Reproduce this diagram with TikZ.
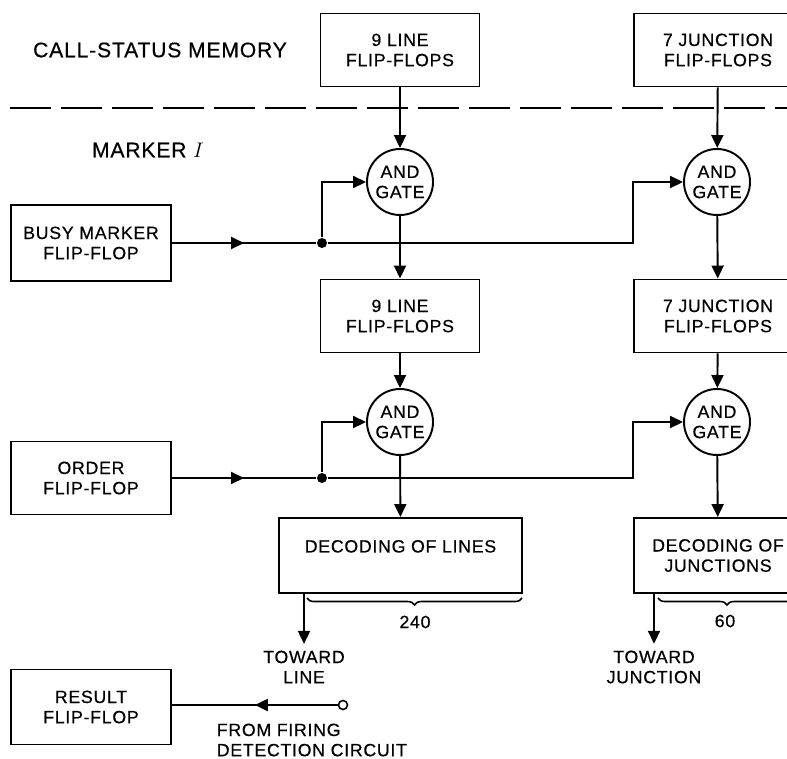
\documentclass[tikz,border=0pt]{standalone}
\usepackage{fontspec}
\setmainfont{Liberation Sans}[LetterSpace=4, FakeBold=0.5]
\usetikzlibrary{arrows.meta, positioning, decorations.markings, decorations.pathreplacing}

\begin{document}
\begin{tikzpicture}[line width=1.1pt,
    >={Triangle[length=0.26cm,width=0.24cm]},
    every node/.style={font=\fontsize{10.1}{11.5}\selectfont, align=center},
    blk/.style={draw, rectangle, minimum height=1.46cm, inner sep=2pt},
    andgate/.style={draw, circle, minimum size=1.32cm, inner sep=0pt},
    jdot/.style={circle, fill, minimum size=0.2cm, inner sep=0pt},
    opendot/.style={circle, draw, fill=white, minimum size=0.18cm, inner sep=0pt, line width=0.9pt},
    midarrow/.style={postaction={decorate},
      decoration={markings, mark=at position 0.5 with {\arrow{>}}}},
    bracelbl/.style={decorate, decoration={brace, mirror, amplitude=0.14cm}, line width=0.9pt},
    heading/.style={font=\fontsize{12}{14}\selectfont}]

\useasboundingbox (0,0) rectangle (15.74,-15.16);
\clip (0,0) rectangle (15.74,-15.16);

\node[heading] (csm) at (3.2,-1.0) {CALL-STATUS MEMORY};
\node[heading] (mk) at (2.96,-3.0) {MARKER $I$};

% === memory / marker boundary ===
\draw[dash pattern=on 0.82cm off 0.2cm] (0.2,-2.16) -- (15.74,-2.16);

% === call-status memory ===
\node[blk, minimum width=3.18cm] (lff1) at (8.0,-1.0) {9 LINE\\FLIP-FLOPS};
\node[blk, minimum width=3.36cm] (jff1) at (14.36,-1.0) {7 JUNCTION\\FLIP-FLOPS};

% === first gates ===
\node[andgate] (g1) at (8.0,-3.64) {AND\\GATE};
\node[andgate] (g2) at (14.34,-3.64) {AND\\GATE};
\node[blk, minimum width=3.2cm, minimum height=1.52cm] (busy) at (1.82,-4.86) {BUSY MARKER\\FLIP-FLOP};
\node[jdot] (d1) at (6.44,-4.86) {};

% === marker flip-flops ===
\node[blk, minimum width=3.18cm] (lff2) at (8.0,-6.32) {9 LINE\\FLIP-FLOPS};
\node[blk, minimum width=3.36cm] (jff2) at (14.36,-6.32) {7 JUNCTION\\FLIP-FLOPS};

% === second gates ===
\node[andgate] (g3) at (8.0,-8.44) {AND\\GATE};
\node[andgate] (g4) at (14.34,-8.44) {AND\\GATE};
\node[blk, minimum width=3.2cm] (order) at (1.82,-9.56) {ORDER\\FLIP-FLOP};
\node[jdot] (d2) at (6.44,-9.56) {};

% === decoding ===
\node[blk, minimum width=4.86cm, minimum height=1.5cm] (decl) at (8.01,-11.11) {DECODING OF LINES\\[-1pt]\mbox{}};
\node[blk, minimum width=3.36cm, minimum height=1.5cm] (decj) at (14.36,-11.11) {DECODING OF\\JUNCTIONS};
\node (toline) at (6.08,-13.34) {TOWARD\\LINE};
\node (tojunc) at (13.08,-13.34) {TOWARD\\JUNCTION};
\node (n240) at (8.3,-12.44) {240};
\node (n60) at (14.5,-12.42) {60};

% === result ===
\node[blk, minimum width=3.2cm, minimum height=1.5cm] (result) at (1.82,-14.14) {RESULT\\FLIP-FLOP};
\node[opendot] (fire) at (6.86,-14.1) {};
\node[anchor=west, align=left] (firelbl) at (4.2,-14.8) {FROM FIRING\\DETECTION CIRCUIT};

% connectors
\draw[->] (lff1) -- (g1);
\draw[->] (jff1) -- (g2);
\draw[midarrow] (busy) -- (d1);
\draw[->] (d1) |- (g1);
\draw[->] (d1) -- (d1 -| jff2.west) |- (g2);
\draw[->] (g1) -- (lff2);
\draw[->] (g2) -- (jff2);

\draw[->] (lff2) -- (g3);
\draw[->] (jff2) -- (g4);
\draw[midarrow] (order) -- (d2);
\draw[->] (d2) |- (g3);
\draw[->] (d2) -- (d2 -| jff2.west) |- (g4);
\draw[->] (g3) -- (decl);
\draw[->] (g4) -- (decj);

\draw[->] (decl.south -| toline) -- (toline);
\draw[->] (decj.south -| tojunc) -- (tojunc);
\draw[bracelbl] (6.14,-11.96) -- (10.44,-11.96);
\draw[bracelbl] (13.16,-11.96) -- (15.92,-11.96);

\draw[midarrow] (fire) -- (fire -| result.east);

\end{tikzpicture}
\end{document}
